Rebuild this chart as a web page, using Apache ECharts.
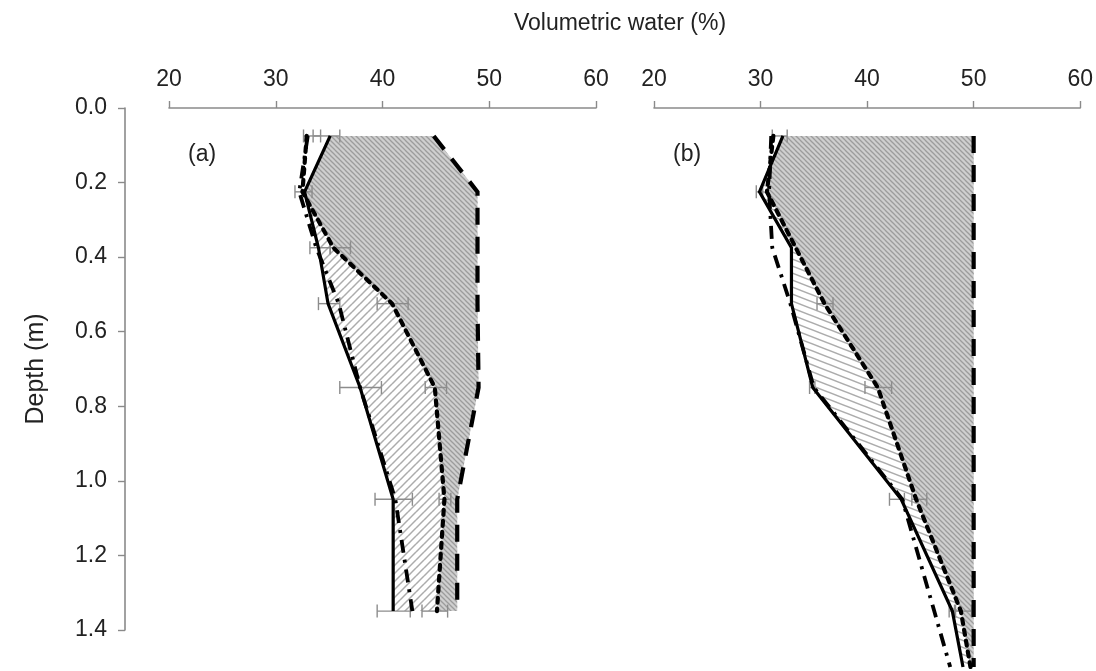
<!DOCTYPE html>
<html><head><meta charset="utf-8">
<script src="https://cdn.jsdelivr.net/npm/echarts@6/dist/echarts.min.js"></script>
<style>html,body{margin:0;padding:0;background:#fff}#c{width:1096px;height:671px}</style>
</head><body><div id="c"></div>
<script>
// ---------- data ----------
const xTicks = [20, 30, 40, 50, 60];
const depthTicks = [0.0, 0.2, 0.4, 0.6, 0.8, 1.0, 1.2, 1.4];

// Panel (a)
const depthsA  = [0.075, 0.225, 0.375, 0.525, 0.75, 1.05, 1.35];
const solidA   = [35.1, 32.7, 34.0, 34.9, 37.9, 41.0, 41.0];
const shortA   = [32.9, 32.5, 35.4, 40.9, 44.9, 45.8, 45.1];
const longA    = [44.8, 48.9, 48.9, 48.9, 49.0, 47.0, 47.0];
const dashDotA = [33.0, 32.2, 33.8, 35.9, 37.9, 41.2, 42.8];
const errA = [
  [0.075, 33.5, 36.0], [0.075, 32.6, 34.2], [0.225, 31.8, 33.4],
  [0.375, 33.2, 35.1], [0.375, 35.1, 37.0],
  [0.525, 34.0, 36.0], [0.525, 39.5, 42.4],
  [0.75, 36.0, 39.9], [0.75, 44.0, 46.0],
  [1.05, 39.3, 42.8], [1.05, 45.3, 46.4],
  [1.35, 39.5, 42.6], [1.35, 43.7, 46.1]
];

// Panel (b)
const depthsB  = [0.075, 0.225, 0.375, 0.525, 0.75, 1.05, 1.35, 1.5];
const solidB   = [32.1, 29.9, 32.9, 32.9, 34.9, 43.2, 48.0, 49.0];
const shortB   = [31.2, 30.6, 33.3, 36.0, 41.0, 44.6, 48.8, 49.7];
const longB    = [50.0, 50.0, 50.0, 50.0, 50.0, 50.0, 50.0, 50.0];
const dashDotB = [31.0, 30.8, 31.1, 32.8, 35.0, 43.3, 46.3, 47.8];
const errB = [
  [0.075, 31.1, 32.5], [0.225, 29.6, 30.2],
  [0.525, 35.3, 36.8], [0.75, 34.6, 35.1], [0.75, 39.8, 42.3],
  [1.05, 42.1, 43.5], [1.05, 44.2, 45.6],
  [1.35, 47.7, 48.3], [1.35, 48.2, 49.8]
];

// ---------- patterns ----------
function makePattern(w, h, bg, stroke, lw, dir) {
  const cv = document.createElement('canvas');
  cv.width = w; cv.height = h;
  const ctx = cv.getContext('2d');
  if (bg) { ctx.fillStyle = bg; ctx.fillRect(0, 0, w, h); }
  ctx.strokeStyle = stroke; ctx.lineWidth = lw;
  for (let ox = -1; ox <= 1; ox++) for (let oy = -1; oy <= 1; oy++) {
    ctx.beginPath();
    if (dir === 'down') { ctx.moveTo(ox * w, oy * h); ctx.lineTo(ox * w + w, oy * h + h); }
    else { ctx.moveTo(ox * w, oy * h + h); ctx.lineTo(ox * w + w, oy * h); }
    ctx.stroke();
  }
  return { image: cv, repeat: 'repeat' };
}
const greyPat   = makePattern(5, 5, '#cfcfcf', '#9c9c9c', 1.3, 'down');
const lightPatA = makePattern(8, 8, '#ffffff', '#acacac', 1.5, 'up');
const lightPatB = makePattern(18, 7, '#ffffff', '#acacac', 1.5, 'down');

// ---------- renderers ----------
function fillRenderer(depths, solid, short, long, lightPat) {
  return function (params, api) {
    const c = (x, d) => api.coord([x, d]);
    const n = depths.length;
    const light = [];
    for (let i = 0; i < n; i++) light.push(c(solid[i], depths[i]));
    for (let i = n - 1; i >= 0; i--) light.push(c(long[i], depths[i]));
    const left = [];
    for (let i = 0; i < n; i++) {
      left.push([Math.max(solid[i], short[i]), depths[i]]);
      if (i < n - 1) {
        const a = short[i] - solid[i], b = short[i + 1] - solid[i + 1];
        if (a * b < 0) {
          const t = a / (a - b);
          left.push([solid[i] + t * (solid[i + 1] - solid[i]), depths[i] + t * (depths[i + 1] - depths[i])]);
        }
      }
    }
    const grey = left.map(p => c(p[0], p[1]));
    for (let i = n - 1; i >= 0; i--) grey.push(c(long[i], depths[i]));
    return {
      type: 'group',
      children: [
        { type: 'polygon', shape: { points: light }, style: { fill: lightPat, stroke: null } },
        { type: 'polygon', shape: { points: grey }, style: { fill: greyPat, stroke: null } }
      ]
    };
  };
}
function errRenderer(params, api) {
  const d = api.value(0);
  const p1 = api.coord([api.value(1), d]);
  const p2 = api.coord([api.value(2), d]);
  const h = 6.5;
  const st = { stroke: '#8c8c8c', lineWidth: 1.4 };
  return {
    type: 'group',
    children: [
      { type: 'line', shape: { x1: p1[0], y1: p1[1], x2: p2[0], y2: p2[1] }, style: st },
      { type: 'line', shape: { x1: p1[0], y1: p1[1] - h, x2: p1[0], y2: p1[1] + h }, style: st },
      { type: 'line', shape: { x1: p2[0], y1: p2[1] - h, x2: p2[0], y2: p2[1] + h }, style: st }
    ]
  };
}

const pairs = (xs, ds) => ds.map((d, i) => [xs[i], d]);
const FONT = 'Liberation Sans';

function lineSeries(idx, xs, ds, type, width, cap) {
  return {
    type: 'line', xAxisIndex: idx, yAxisIndex: idx, data: pairs(xs, ds),
    symbol: 'none', z: 5, silent: true, animation: false,
    lineStyle: { color: '#000', width: width, type: type, cap: cap || 'butt', join: 'miter' }
  };
}

function panelSeries(idx, depths, solid, short, long, dashDot, err, lightPat) {
  return [
    { type: 'custom', xAxisIndex: idx, yAxisIndex: idx, data: [[40, 0.5]], z: 1, silent: true,
      renderItem: fillRenderer(depths, solid, short, long, lightPat), animation: false },
    { type: 'custom', xAxisIndex: idx, yAxisIndex: idx, data: err, z: 2, silent: true,
      encode: { x: [1, 2], y: 0 }, renderItem: errRenderer, animation: false },
    lineSeries(idx, long, depths, [17, 12], 4.2),
    lineSeries(idx, dashDot, depths, [13, 7, 3, 7], 3.8),
    lineSeries(idx, short, depths, [5, 6], 4.2, 'round'),
    lineSeries(idx, solid, depths, 'solid', 3.2)
  ];
}

const FS = 23;
const xAxisCommon = {
  type: 'value', position: 'top', min: xTicks[0], max: xTicks[xTicks.length - 1], interval: 10,
  axisLine: { show: true, lineStyle: { color: '#8a8a8a', width: 1.6 } },
  axisTick: { show: true, inside: false, length: 7, lineStyle: { color: '#8a8a8a', width: 1.4 } },
  axisLabel: { color: '#222', fontSize: FS, fontFamily: FONT, margin: 17 },
  splitLine: { show: false }
};
const yHidden = { type: 'value', min: 0, max: 1.5, inverse: true, show: false };

const chart = echarts.init(document.getElementById('c'), null, { renderer: 'canvas' });
chart.setOption({
  animation: false,
  backgroundColor: '#fff',
  title: [
    { text: 'Volumetric water (%)', left: 615, top: 7, textAlign: 'center',
      textStyle: { fontSize: FS, fontWeight: 'normal', color: '#222', fontFamily: FONT } },
    { text: '(a)', left: 183, top: 138, textStyle: { fontSize: 23, fontWeight: 'normal', color: '#222', fontFamily: FONT } },
    { text: '(b)', left: 668, top: 138, textStyle: { fontSize: 23, fontWeight: 'normal', color: '#222', fontFamily: FONT } }
  ],
  grid: [
    { left: 169, top: 108, width: 427, height: 559 },
    { left: 654, top: 108, width: 427, height: 559 },
    { left: 125, top: 108, width: 20, height: 522 }
  ],
  xAxis: [
    Object.assign({ gridIndex: 0 }, xAxisCommon),
    Object.assign({ gridIndex: 1 }, xAxisCommon),
    { gridIndex: 2, type: 'value', show: false }
  ],
  yAxis: [
    Object.assign({ gridIndex: 0 }, yHidden),
    Object.assign({ gridIndex: 1 }, yHidden),
    { gridIndex: 2, type: 'value', min: depthTicks[0], max: depthTicks[depthTicks.length - 1], interval: 0.2,
      inverse: true, position: 'left',
      name: 'Depth (m)', nameLocation: 'middle', nameGap: 76, nameRotate: 90,
      nameTextStyle: { fontSize: 25, color: '#222', fontFamily: FONT },
      axisLine: { show: true, lineStyle: { color: '#8a8a8a', width: 1.6 } },
      axisTick: { show: true, inside: false, length: 7, lineStyle: { color: '#8a8a8a', width: 1.4 } },
      axisLabel: { color: '#222', fontSize: FS, fontFamily: FONT, margin: 18,
        formatter: v => Number(v).toFixed(1) },
      splitLine: { show: false } }
  ],
  series: [].concat(
    panelSeries(0, depthsA, solidA, shortA, longA, dashDotA, errA, lightPatA),
    panelSeries(1, depthsB, solidB, shortB, longB, dashDotB, errB, lightPatB)
  )
});
</script>
</body></html>
